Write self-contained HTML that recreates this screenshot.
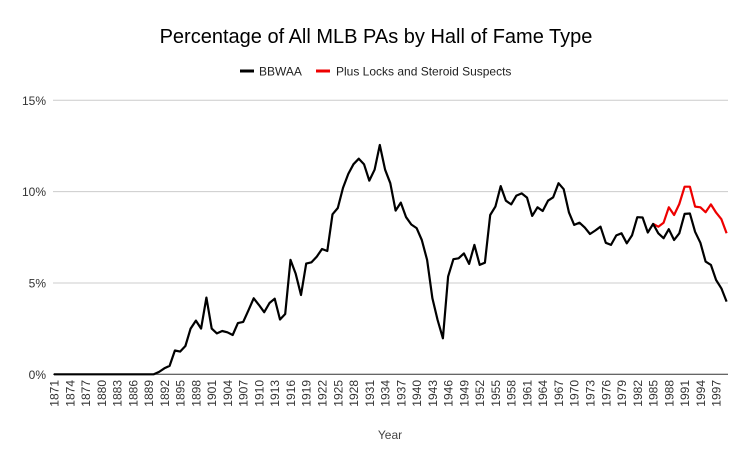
<!DOCTYPE html><html><head><meta charset="utf-8"><style>body{margin:0;background:#fff}svg{display:block;font-family:"Liberation Sans",Arial,sans-serif}</style></head><body>
<svg id="s" width="752" height="465" xmlns="http://www.w3.org/2000/svg">
<text x="376" y="43" text-anchor="middle" font-size="20" fill="#000">Percentage of All MLB PAs by Hall of Fame Type</text>
<line x1="240" y1="71" x2="254" y2="71" stroke="#000" stroke-width="3"/>
<text x="259" y="75.5" font-size="12" fill="#222">BBWAA</text>
<line x1="316" y1="71" x2="330" y2="71" stroke="#e00" stroke-width="3"/>
<text x="336" y="75.5" font-size="12" fill="#222">Plus Locks and Steroid Suspects</text>
<text x="390" y="439" text-anchor="middle" font-size="12" fill="#444">Year</text>
</svg>
<script>
const s=document.getElementById('s'),NS='http://www.w3.org/2000/svg';
function el(t,a,txt){const e=document.createElementNS(NS,t);for(const k in a)e.setAttribute(k,a[k]);if(txt!=null)e.textContent=txt;s.appendChild(e);return e;}
const X=y=>54+(y-1871)*5.255,Y=v=>374.3-v*18.27;
[5,10,15].forEach(v=>el('line',{x1:53,x2:728,y1:Y(v),y2:Y(v),stroke:'#ccc','stroke-width':1}));
[0,5,10,15].forEach(v=>el('text',{x:46,y:Y(v)+4.5,'text-anchor':'end','font-size':12,fill:'#333'},v+'%'));
for(let y=1871;y<=1997;y+=3){el('text',{transform:`translate(${X(y)+4.5},${380}) rotate(-90)`,'text-anchor':'end','font-size':12,fill:'#333'},y);}
const b=[];for(let i=0;i<20;i++)b.push(0);
b.push(.13,.33,.46,1.3,1.24,1.55,2.5,2.94,2.5,4.2,2.5,2.24,2.37,2.3,2.15,2.8,2.87,3.5,4.16,3.8,3.4,3.9,4.14,3.0,3.3,6.26,5.5,4.34,6.06,6.13,6.44,6.86,6.75,8.76,9.1,10.2,10.97,11.5,11.8,11.5,10.6,11.2,12.55,11.2,10.46,8.96,9.4,8.6,8.2,8.0,7.35,6.26,4.16,2.97,1.97,5.35,6.3,6.35,6.62,6.04,7.08,5.99,6.11,8.72,9.18,10.3,9.5,9.3,9.78,9.9,9.67,8.67,9.14,8.94,9.5,9.69,10.46,10.13,8.85,8.18,8.3,8.03,7.68,7.87,8.08,7.2,7.08,7.6,7.72,7.17,7.6,8.6,8.58,7.76,8.23,7.72,7.45,7.94,7.35,7.72,8.78,8.8,7.8,7.2,6.17,5.99,5.16,4.7,3.98);
const r=[8.23,8.08,8.3,9.14,8.72,9.32,10.27,10.27,9.18,9.14,8.87,9.3,8.85,8.49,7.72];
el('line',{x1:53,x2:728,y1:374.3,y2:374.3,stroke:'#333','stroke-width':1});
el('polyline',{points:r.map((v,i)=>X(1985+i).toFixed(1)+','+Y(v).toFixed(1)).join(' '),fill:'none',stroke:'#e00','stroke-width':2.2,'stroke-linejoin':'round'});
el('polyline',{points:b.map((v,i)=>X(1871+i).toFixed(1)+','+Y(v).toFixed(1)).join(' '),fill:'none',stroke:'#000','stroke-width':2.2,'stroke-linejoin':'round'});
</script></body></html>
